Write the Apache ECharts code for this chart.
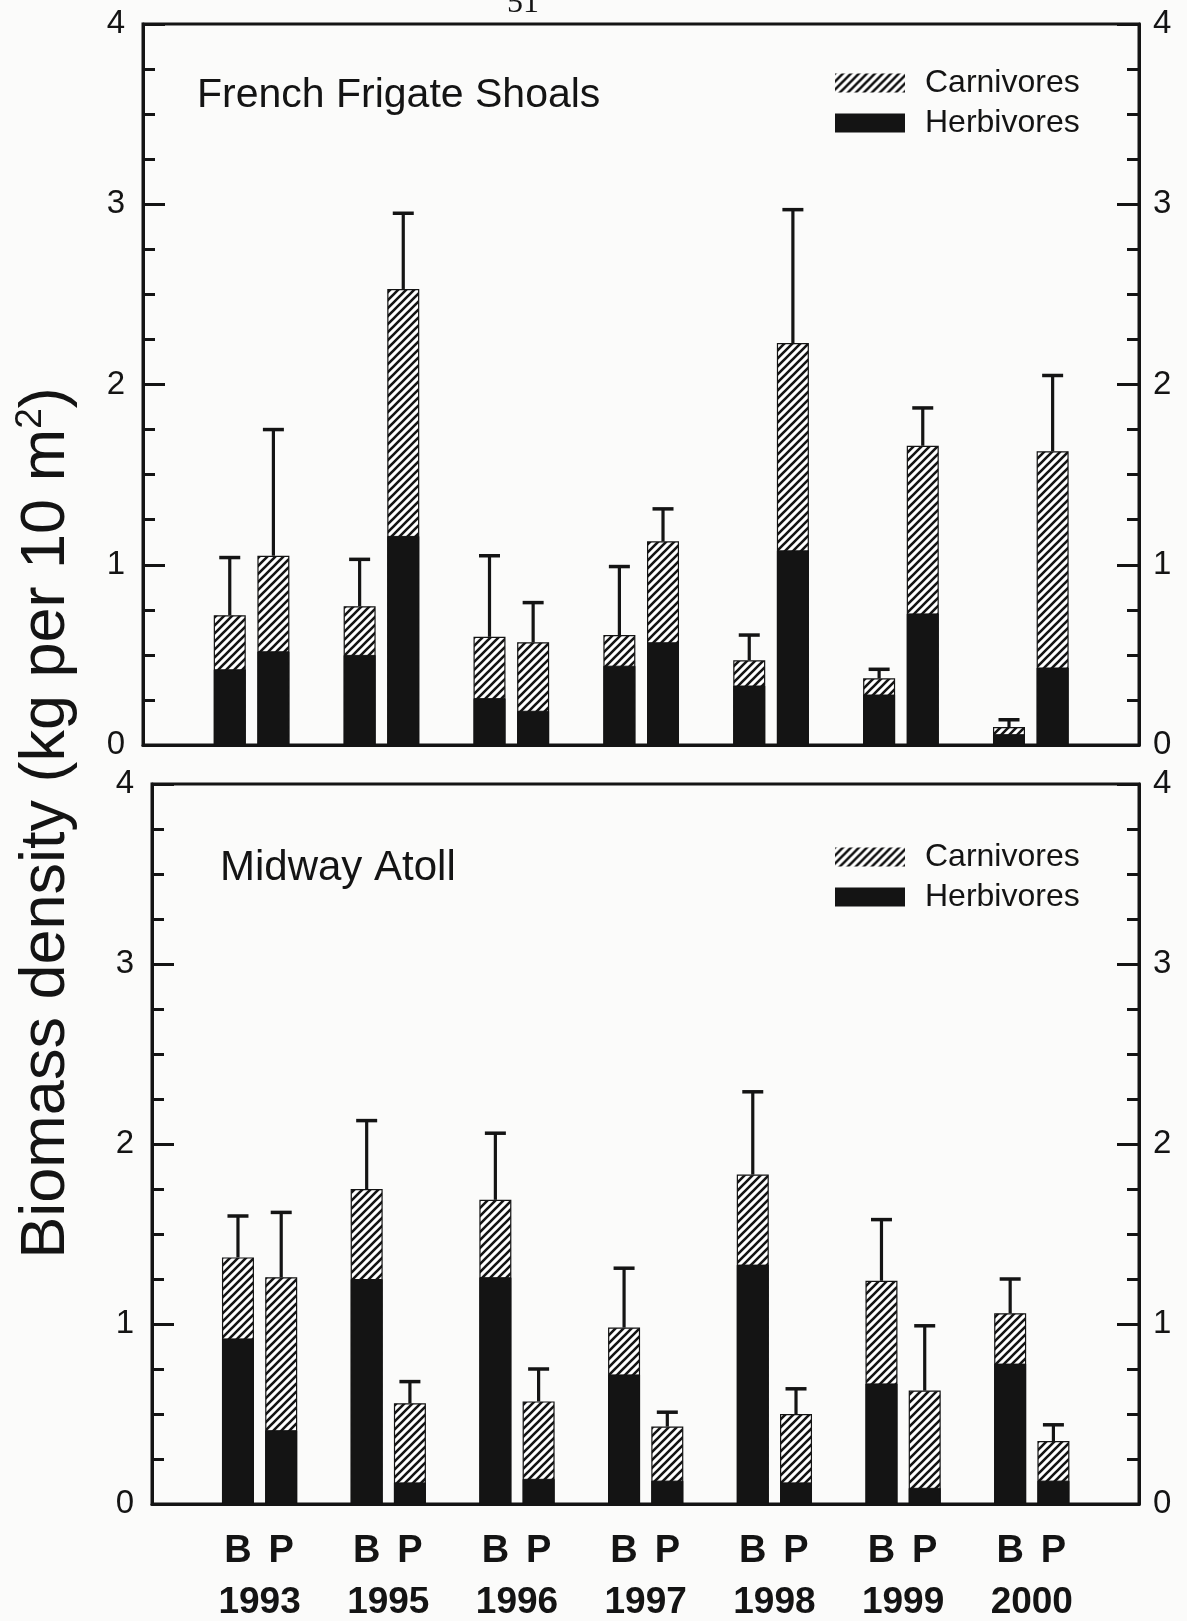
<!DOCTYPE html>
<html><head><meta charset="utf-8">
<script src="https://cdn.jsdelivr.net/npm/echarts@6/dist/echarts.min.js"></script>
<style>html,body{margin:0;padding:0;background:#fbfbfa;} #c{width:1187px;height:1621px;}</style>
</head><body><div id="c"></div>
<script>
// ---------- data (kg per 10 m^2) ----------
const years = ['1993', '1995', '1996', '1997', '1998', '1999', '2000'];
const siteLabels = ['B', 'P'];
const panelTitles = ['French Frigate Shoals', 'Midway Atoll'];
const seriesNames = ['Carnivores', 'Herbivores'];
const yTicks = [0, 1, 2, 3, 4];
const pageNumber = '51';
const axisTitle = ['Biomass density (kg per 10 m', '2', ')'];

// French Frigate Shoals
const ffsHerbB = [0.42, 0.50, 0.26, 0.44, 0.33, 0.28, 0.06];
const ffsCarnB = [0.30, 0.27, 0.34, 0.17, 0.14, 0.09, 0.04];
const ffsErrB  = [0.32, 0.26, 0.45, 0.38, 0.14, 0.05, 0.04];
const ffsHerbP = [0.52, 1.16, 0.19, 0.57, 1.08, 0.73, 0.43];
const ffsCarnP = [0.53, 1.37, 0.38, 0.56, 1.15, 0.93, 1.20];
const ffsErrP  = [0.70, 0.42, 0.22, 0.18, 0.74, 0.21, 0.42];

// Midway Atoll
const mdwHerbB = [0.92, 1.25, 1.26, 0.72, 1.33, 0.67, 0.78];
const mdwCarnB = [0.45, 0.50, 0.43, 0.26, 0.50, 0.57, 0.28];
const mdwErrB  = [0.23, 0.38, 0.37, 0.33, 0.46, 0.34, 0.19];
const mdwHerbP = [0.41, 0.12, 0.14, 0.13, 0.12, 0.09, 0.13];
const mdwCarnP = [0.85, 0.44, 0.43, 0.30, 0.38, 0.54, 0.22];
const mdwErrP  = [0.36, 0.12, 0.18, 0.08, 0.14, 0.36, 0.09];

// ---------- styling / layout ----------
const INK = '#141414';
const FONT = "'Liberation Sans', Arial, Helvetica, sans-serif";
const OFF = 0.168;      // B / P offset from the year position (in year units)
const XMIN = -0.836, XMAX = 6.833;

// hatch pattern for carnivores
const hatch = document.createElement('canvas');
hatch.width = 8; hatch.height = 8;
const hg = hatch.getContext('2d');
hg.fillStyle = '#ffffff'; hg.fillRect(0, 0, 8, 8);
hg.strokeStyle = INK; hg.lineWidth = 2.6;
hg.beginPath();
hg.moveTo(-2, 10); hg.lineTo(10, -2);
hg.moveTo(-6, 6); hg.lineTo(6, -6);
hg.moveTo(2, 14); hg.lineTo(14, 2);
hg.stroke();
const hatchFill = { image: hatch, repeat: 'repeat' };

const panels = [
  { herb: [ffsHerbB, ffsHerbP], carn: [ffsCarnB, ffsCarnP], err: [ffsErrB, ffsErrP] },
  { herb: [mdwHerbB, mdwHerbP], carn: [mdwCarnB, mdwCarnP], err: [mdwErrB, mdwErrP] }
];

const gridBoxes = [
  { left: 143, top: 24, width: 996, height: 721 },
  { left: 152, top: 784, width: 987, height: 720 }
];

// [x, value] pairs: B bar left of the year position, P bar right of it
function pairData(arrB, arrP) {
  const out = [];
  years.forEach((_, i) => { out.push([i - OFF, arrB[i]]); out.push([i + OFF, arrP[i]]); });
  return out;
}
// carnivores sit on top of herbivores: their bar reaches herb + carn
function stackTop(h, c) { return h.map((v, i) => v + c[i]); }
function errData(p) {
  const out = [];
  years.forEach((_, i) => {
    [0, 1].forEach(s => {
      const tot = p.herb[s][i] + p.carn[s][i];
      out.push([i + (s === 0 ? -OFF : OFF), tot, tot + p.err[s][i]]);
    });
  });
  return out;
}

const grid = gridBoxes.map(b => Object.assign({
  show: true, borderColor: INK, borderWidth: 3, backgroundColor: 'transparent',
  containLabel: false, outerBoundsMode: 'none'
}, b));

const xAxis = [];
gridBoxes.forEach((b, gi) => {
  xAxis.push({
    type: 'value', gridIndex: gi, min: XMIN, max: XMAX, position: 'bottom',
    axisLine: { show: true, onZero: false, lineStyle: { color: INK, width: 3 } },
    axisTick: { show: false }, axisLabel: { show: false }, splitLine: { show: false }
  });
});
// B / P labels and year labels under the lower panel
xAxis.push({
  type: 'value', gridIndex: 1, min: XMIN, max: XMAX, position: 'bottom',
  axisLine: { show: false, onZero: false }, axisTick: { show: false }, splitLine: { show: false },
  axisLabel: {
    show: true, margin: 29, color: INK, fontFamily: FONT, fontWeight: 'bold', fontSize: 38,
    customValues: years.flatMap((_, i) => [i - OFF, i + OFF]),
    formatter: v => siteLabels[v < Math.round(v) ? 0 : 1]
  }
});
xAxis.push({
  type: 'value', gridIndex: 1, min: XMIN, max: XMAX, position: 'bottom',
  axisLine: { show: false, onZero: false }, axisTick: { show: false }, splitLine: { show: false },
  axisLabel: {
    show: true, margin: 80, color: INK, fontFamily: FONT, fontWeight: 'bold', fontSize: 37,
    customValues: years.map((_, i) => i),
    formatter: v => years[Math.round(v)]
  }
});

const yAxis = [];
gridBoxes.forEach((b, gi) => {
  ['left', 'right'].forEach(pos => {
    yAxis.push({
      type: 'value', gridIndex: gi, position: pos, min: yTicks[0], max: yTicks[yTicks.length - 1], interval: 1,
      axisLine: { show: true, onZero: false, lineStyle: { color: INK, width: 3 } },
      axisTick: { show: true, inside: true, length: 22, lineStyle: { color: INK, width: 3 } },
      minorTick: { show: true, splitNumber: 4, length: 12, lineStyle: { color: INK, width: 3 } },
      splitLine: { show: false }, minorSplitLine: { show: false },
      axisLabel: { show: true, margin: pos === 'left' ? 18 : 14, color: INK, fontFamily: FONT, fontSize: 33 }
    });
  });
});

const series = [];
panels.forEach((p, gi) => {
  series.push({
    name: seriesNames[0], type: 'bar', xAxisIndex: gi, yAxisIndex: gi * 2,
    barWidth: 32, barGap: '-100%', z: 2,
    itemStyle: { color: hatchFill, borderColor: INK, borderWidth: 1.2 },
    data: pairData(stackTop(p.herb[0], p.carn[0]), stackTop(p.herb[1], p.carn[1]))
  });
  series.push({
    name: seriesNames[1], type: 'bar', xAxisIndex: gi, yAxisIndex: gi * 2,
    barWidth: 32, barGap: '-100%', z: 3,
    itemStyle: { color: INK, borderColor: INK, borderWidth: 1 },
    data: pairData(p.herb[0], p.herb[1])
  });
  series.push({
    name: 'SE', type: 'custom', xAxisIndex: gi, yAxisIndex: gi * 2, z: 4,
    encode: { x: 0, y: [1, 2] },
    data: errData(p),
    renderItem: function (params, api) {
      const x = api.value(0);
      const lo = api.coord([x, api.value(1)]);
      const hi = api.coord([x, api.value(2)]);
      const cap = 10.5;
      return {
        type: 'group', children: [
          { type: 'line', shape: { x1: lo[0], y1: lo[1], x2: hi[0], y2: hi[1] }, style: { stroke: INK, lineWidth: 3.2 } },
          { type: 'line', shape: { x1: hi[0] - cap, y1: hi[1], x2: hi[0] + cap, y2: hi[1] }, style: { stroke: INK, lineWidth: 3.5 } }
        ]
      };
    }
  });
});

const legend = [62, 836].map(t => ({
  top: t, left: 830, orient: 'vertical', selectedMode: false,
  data: seriesNames, icon: 'rect', itemWidth: 70, itemHeight: 19, itemGap: 8,
  itemStyle: { borderWidth: 0 },
  textStyle: { color: INK, fontFamily: FONT, fontSize: 32, padding: [0, 0, 0, 15] }
}));

const graphic = [
  { type: 'text', x: 197, y: 96, style: { text: panelTitles[0], fill: INK, font: '41px ' + FONT,
      textAlign: 'left', textVerticalAlign: 'middle', align: 'left', verticalAlign: 'middle' } },
  { type: 'text', x: 220, y: 868, style: { text: panelTitles[1], fill: INK, font: '42px ' + FONT,
      textAlign: 'left', textVerticalAlign: 'middle', align: 'left', verticalAlign: 'middle' } },
  { type: 'text', x: 523, y: 20, style: { text: pageNumber, fill: INK, font: '32px "Liberation Serif", serif',
      textAlign: 'center', textVerticalAlign: 'bottom', align: 'center', verticalAlign: 'bottom' } },
  { type: 'text', x: 47, y: 823, rotation: Math.PI / 2,
    style: {
      text: '{n|' + axisTitle[0] + '}{s|' + axisTitle[1] + '}{n|' + axisTitle[2] + '}',
      rich: {
        n: { fontSize: 63, fontFamily: FONT, fill: INK, lineHeight: 70 },
        s: { fontSize: 37, fontFamily: FONT, fill: INK, lineHeight: 37, verticalAlign: 'top' }
      },
      textAlign: 'center', textVerticalAlign: 'middle', align: 'center', verticalAlign: 'middle'
    } }
];

const chart = echarts.init(document.getElementById('c'), null, { renderer: 'canvas' });
chart.setOption({
  animation: false,
  backgroundColor: '#fbfbfa',
  grid, xAxis, yAxis, series, legend, graphic,
  tooltip: { show: false }
});
</script>
</body></html>
